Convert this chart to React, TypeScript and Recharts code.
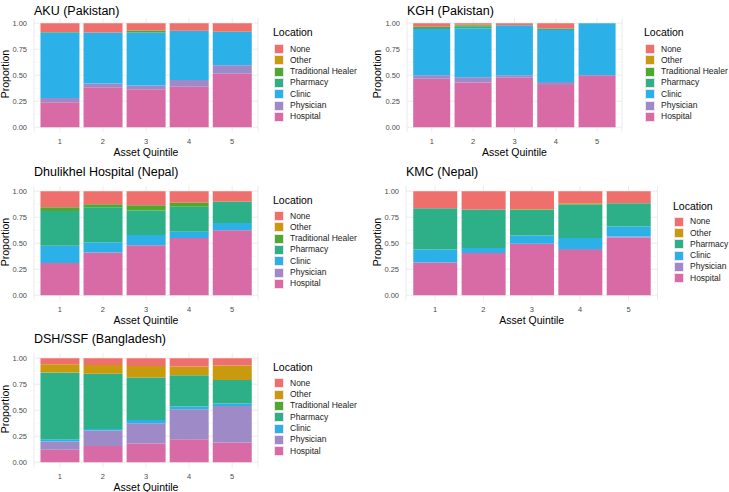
import { BarChart, Bar, XAxis, YAxis, CartesianGrid } from "recharts";

const quintiles = ["1", "2", "3", "4", "5"];

// top to bottom, as in the legend
const locations = ["None", "Other", "Traditional Healer", "Pharmacy", "Clinic", "Physician", "Hospital"];
const kmcLocations = ["None", "Other", "Pharmacy", "Clinic", "Physician", "Hospital"];

const locationColors: Record<string, string> = {
  None: "#ee6f6b",
  Other: "#c99a0e",
  "Traditional Healer": "#4eaa2f",
  Pharmacy: "#2db087",
  Clinic: "#2bb1e7",
  Physician: "#9e8ac6",
  Hospital: "#d86ba6"
};

const majorTicks = [0, 0.25, 0.5, 0.75, 1];
const minorTicks = [0.125, 0.375, 0.625, 0.875];

// proportions per quintile
const aku: Record<string, number[]> = {
  Hospital: [0.24, 0.385, 0.365, 0.39, 0.515],
  Physician: [0.04, 0.035, 0.035, 0.065, 0.08],
  Clinic: [0.63, 0.49, 0.51, 0.47, 0.32],
  Pharmacy: [0, 0, 0, 0, 0],
  "Traditional Healer": [0.005, 0, 0.02, 0.003, 0.005],
  Other: [0, 0, 0, 0, 0],
  None: [0.085, 0.09, 0.07, 0.072, 0.08]
};

const kgh: Record<string, number[]> = {
  Hospital: [0.465, 0.43, 0.476, 0.405, 0.5],
  Physician: [0.035, 0.05, 0.024, 0.03, 0],
  Clinic: [0.445, 0.47, 0.48, 0.5, 0.5],
  Pharmacy: [0.01, 0.02, 0, 0.015, 0],
  "Traditional Healer": [0.01, 0.01, 0, 0, 0],
  Other: [0, 0.005, 0, 0, 0],
  None: [0.035, 0.015, 0.02, 0.05, 0]
};

const dhulikhel: Record<string, number[]> = {
  Hospital: [0.31, 0.41, 0.48, 0.55, 0.625],
  Physician: [0, 0, 0, 0, 0],
  Clinic: [0.165, 0.1, 0.1, 0.06, 0.07],
  Pharmacy: [0.335, 0.335, 0.235, 0.24, 0.2],
  "Traditional Healer": [0.035, 0.03, 0.05, 0.04, 0.005],
  Other: [0, 0, 0, 0, 0],
  None: [0.155, 0.125, 0.135, 0.11, 0.1]
};

const kmc: Record<string, number[]> = {
  Hospital: [0.315, 0.405, 0.495, 0.435, 0.555],
  Physician: [0, 0, 0, 0.01, 0.01],
  Clinic: [0.125, 0.05, 0.08, 0.105, 0.095],
  Pharmacy: [0.395, 0.37, 0.25, 0.325, 0.225],
  Other: [0, 0, 0.005, 0.008, 0],
  None: [0.165, 0.175, 0.17, 0.117, 0.115]
};

const dsh: Record<string, number[]> = {
  Hospital: [0.12, 0.155, 0.18, 0.22, 0.19],
  Physician: [0.08, 0.15, 0.195, 0.29, 0.35],
  Clinic: [0.02, 0.015, 0.03, 0.025, 0.025],
  Pharmacy: [0.64, 0.53, 0.41, 0.3, 0.225],
  "Traditional Healer": [0.003, 0, 0, 0, 0],
  Other: [0.08, 0.085, 0.11, 0.085, 0.14],
  None: [0.057, 0.065, 0.075, 0.08, 0.07]
};

const UNIT = 104; // px for proportion 0 -> 1

interface PanelProps {
  title: string;
  values: Record<string, number[]>;
  legend: string[];
  plotLeft: number;
  plotRight: number;
  y1: number;
  titleY: number;
  yLabelX: number;
  legendX: number;
  legendTitleY: number;
  keysTop: number;
}

function Panel({ title, values, legend, plotLeft, plotRight, y1, titleY, yLabelX, legendX, legendTitleY, keysTop }: PanelProps) {
  const rows = quintiles.map((q, i) => {
    const row: Record<string, any> = { q };
    legend.forEach((l) => {
      row[l] = values[l][i];
    });
    return row;
  });

  const plotTop = y1 - 0.05 * UNIT;
  const plotH = 1.1 * UNIT;
  const plotW = plotRight - plotLeft;
  const pad = (plotW * 0.1) / 5.2;
  const y0 = y1 + UNIT;

  return (
    <>
      <div style={{ position: "absolute", left: plotLeft, top: titleY - 8.5, fontSize: 12.5, color: "#000", whiteSpace: "nowrap" }}>
        {title}
      </div>

      <div
        style={{
          position: "absolute",
          left: yLabelX - 40,
          top: (y1 + y0) / 2 - 7,
          width: 80,
          textAlign: "center",
          fontSize: 10.5,
          transform: "rotate(-90deg)",
          color: "#000"
        }}
      >
        Proportion
      </div>

      <div
        style={{
          position: "absolute",
          left: (plotLeft + plotRight) / 2 - 50,
          top: y0 + 19,
          width: 100,
          textAlign: "center",
          fontSize: 10.5,
          color: "#000"
        }}
      >
        Asset Quintile
      </div>

      <div style={{ position: "absolute", left: plotLeft - 40, top: plotTop - 5 }}>
        <BarChart
          width={40 + plotW + 5}
          height={5 + plotH + 25}
          data={rows}
          margin={{ top: 5, right: 5, left: 0, bottom: 0 }}
          barCategoryGap="5%"
        >
          <CartesianGrid stroke="#f2f2f2" strokeWidth={0.6} vertical={false} horizontalValues={minorTicks} />
          <CartesianGrid stroke="#ebebeb" strokeWidth={1} horizontalValues={majorTicks} />
          <XAxis
            dataKey="q"
            height={25}
            tickLine={false}
            axisLine={false}
            tickSize={0}
            tickMargin={6}
            padding={{ left: pad, right: pad }}
            tick={{ fontSize: 7.5, fill: "#4d4d4d" }}
          />
          <YAxis
            width={40}
            type="number"
            domain={[-0.05, 1.05]}
            allowDataOverflow
            ticks={majorTicks}
            tickFormatter={(v: number) => v.toFixed(2)}
            tickLine={false}
            axisLine={false}
            tickSize={0}
            tickMargin={7}
            tick={{ fontSize: 7.5, fill: "#4d4d4d" }}
          />
          {[...legend].reverse().map((l) => (
            <Bar key={l} dataKey={l} stackId="a" fill={locationColors[l]} isAnimationActive={false} />
          ))}
        </BarChart>
      </div>

      {/* LEGEND */}
      <div style={{ position: "absolute", left: legendX, top: legendTitleY - 7, fontSize: 10.5, color: "#000" }}>
        Location
      </div>
      {legend.map((l, i) => (
        <div key={l}>
          <div
            style={{
              position: "absolute",
              left: legendX + 1,
              top: keysTop + i * 11.3,
              width: 10,
              height: 10,
              boxSizing: "border-box",
              background: locationColors[l],
              border: "0.5px solid rgba(255,235,245,0.9)"
            }}
          />
          <div
            style={{
              position: "absolute",
              left: legendX + 17,
              top: keysTop + i * 11.3 - 0.5,
              fontSize: 8.5,
              lineHeight: "11px",
              color: "#1a1a1a",
              whiteSpace: "nowrap"
            }}
          >
            {l}
          </div>
        </div>
      ))}
    </>
  );
}

export default function App() {
  return (
    <div
      style={{
        position: "absolute",
        left: 0,
        top: 0,
        width: 729,
        height: 492,
        background: "#fff",
        overflow: "hidden",
        fontFamily: "'Liberation Sans', Arial, sans-serif"
      }}
    >
      <Panel
        title="AKU (Pakistan)"
        values={aku}
        legend={locations}
        plotLeft={34}
        plotRight={258}
        y1={23}
        titleY={12}
        yLabelX={5}
        legendX={273}
        legendTitleY={33}
        keysTop={44}
      />
      <Panel
        title="KGH (Pakistan)"
        values={kgh}
        legend={locations}
        plotLeft={407}
        plotRight={622}
        y1={23}
        titleY={12}
        yLabelX={377}
        legendX={644}
        legendTitleY={33}
        keysTop={44}
      />
      <Panel
        title="Dhulikhel Hospital (Nepal)"
        values={dhulikhel}
        legend={locations}
        plotLeft={34}
        plotRight={258}
        y1={190.7}
        titleY={173.5}
        yLabelX={5}
        legendX={273}
        legendTitleY={200.7}
        keysTop={211}
      />
      <Panel
        title="KMC (Nepal)"
        values={kmc}
        legend={kmcLocations}
        plotLeft={406}
        plotRight={657.5}
        y1={190.7}
        titleY={173.5}
        yLabelX={377}
        legendX={673}
        legendTitleY={206.7}
        keysTop={216.7}
      />
      <Panel
        title="DSH/SSF (Bangladesh)"
        values={dsh}
        legend={locations}
        plotLeft={34}
        plotRight={258}
        y1={357.7}
        titleY={340.7}
        yLabelX={5}
        legendX={273}
        legendTitleY={367.7}
        keysTop={378.3}
      />
    </div>
  );
}
